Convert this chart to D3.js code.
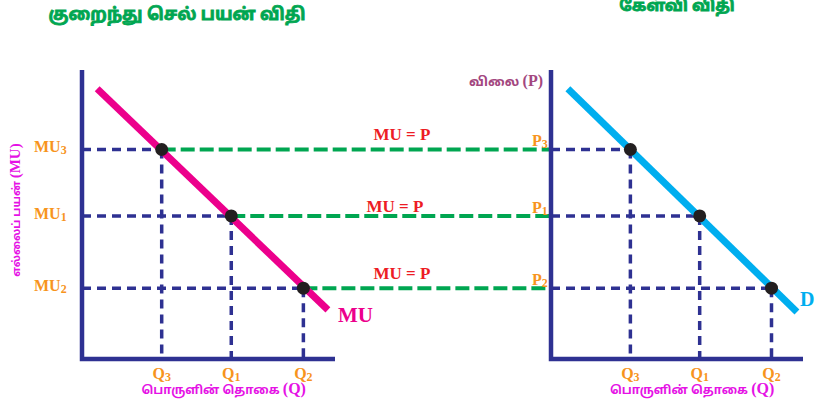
<!DOCTYPE html>
<html lang="ta">
<head>
<meta charset="utf-8" />
<script src="https://cdn.jsdelivr.net/npm/d3@7"></script>
<style>
  body { margin: 0; background: #fff; }
  svg { display: block; }
  .serif { font-family: "Liberation Serif", "DejaVu Serif", serif; font-weight: bold; }
  .tamil { font-family: "Noto Sans Tamil", "Lohit Tamil", "Noto Sans", sans-serif; font-weight: bold; }
</style>
</head>
<body>
<svg id="chart" width="817" height="399"></svg>
<script>
// values (axis units 0..10)
var qValues = [3.15, 5.9, 8.75];          // Q3, Q1, Q2
var qLabels = [["Q", "3"], ["Q", "1"], ["Q", "2"]];
var muValues = [7.25, 4.95, 2.45];        // MU3, MU1, MU2  (= P3, P1, P2)
var muLabels = [["MU", "3"], ["MU", "1"], ["MU", "2"]];
var pLabels = [["P", "3"], ["P", "1"], ["P", "2"]];
var muCurve = [[0.6, 9.35], [9.72, 1.7]];
var demandCurve = [[0.67, 9.35], [9.76, 1.63]];
var eqLabels = ["MU = P", "MU = P", "MU = P"];

var svg = d3.select("#chart");

var axisColor = "#2e3192",
    orange = "#f7941d",
    magenta = "#e512e5",
    green = "#00a651";

var y = d3.scaleLinear().domain([0, 10]).range([359, 70]);
var xL = d3.scaleLinear().domain([0, 10]).range([82, 335]);
var xR = d3.scaleLinear().domain([0, 10]).range([551, 803]);

// green MU = P connectors (behind everything)
svg.append("g").selectAll("line")
    .data(muValues)
  .enter().append("line")
    .attr("x1", function(d, i) { return xL(qValues[i]); })
    .attr("x2", xR(0))
    .attr("y1", function(d) { return y(d); })
    .attr("y2", function(d) { return y(d); })
    .attr("stroke", green)
    .attr("stroke-width", 4)
    .attr("stroke-dasharray", "14,5");

svg.append("g").selectAll("text")
    .data(eqLabels)
  .enter().append("text")
    .attr("class", "serif")
    .attr("x", function(d, i) { return i == 1 ? 395 : 402; })
    .attr("y", function(d, i) { return y(muValues[i]) - (i == 1 ? 4 : 9); })
    .attr("text-anchor", "middle")
    .attr("font-size", 17)
    .attr("fill", "#ed1c24")
    .text(function(d) { return d; });

function subLabel(g, parts, size) {
  g.append("tspan").text(parts[0]);
  g.append("tspan").attr("font-size", size).attr("dy", 2).text(parts[1]);
}

// tamil words followed by a serif "(X)"
function mixedLabel(g, word, sym, symSize) {
  g.append("tspan").text(word + " ");
  g.append("tspan").attr("class", "serif").attr("font-size", symSize).text("(" + sym + ")");
}

function panel(x, curve, curveColor, levelLabels, levelX) {
  var g = svg.append("g");

  // dashed guides
  g.selectAll("line.h")
      .data(muValues)
    .enter().append("line")
      .attr("x1", x(0))
      .attr("x2", function(d, i) { return x(qValues[i]); })
      .attr("y1", function(d) { return y(d); })
      .attr("y2", function(d) { return y(d); })
      .attr("stroke", axisColor)
      .attr("stroke-width", 3.5)
      .attr("stroke-dasharray", "9,6");

  g.selectAll("line.v")
      .data(qValues)
    .enter().append("line")
      .attr("x1", function(d) { return x(d); })
      .attr("x2", function(d) { return x(d); })
      .attr("y1", function(d, i) { return y(muValues[i]); })
      .attr("y2", y(0))
      .attr("stroke", axisColor)
      .attr("stroke-width", 3.5)
      .attr("stroke-dasharray", "9,6");

  // curve
  g.append("path")
      .datum(curve)
      .attr("d", d3.line().x(function(d) { return x(d[0]); }).y(function(d) { return y(d[1]); }))
      .attr("stroke", curveColor)
      .attr("stroke-width", 7)
      .attr("fill", "none");

  // axes
  g.append("path")
      .attr("d", "M" + x(0) + "," + y(10) + "V" + y(0) + "H" + x(10))
      .attr("stroke", axisColor)
      .attr("stroke-width", 4.5)
      .attr("fill", "none");

  // points
  g.selectAll("circle")
      .data(qValues)
    .enter().append("circle")
      .attr("cx", function(d) { return x(d); })
      .attr("cy", function(d, i) { return y(muValues[i]); })
      .attr("r", 6.5)
      .attr("fill", "#231f20");

  // Q labels
  g.selectAll("text.q")
      .data(qLabels)
    .enter().append("text")
      .attr("class", "serif")
      .attr("x", function(d, i) { return x(qValues[i]); })
      .attr("y", 379)
      .attr("text-anchor", "middle")
      .attr("font-size", 16)
      .attr("fill", orange)
      .each(function(d) { subLabel(d3.select(this), d, 12); });

  // level labels
  g.selectAll("text.l")
      .data(levelLabels)
    .enter().append("text")
      .attr("class", "serif")
      .attr("x", levelX)
      .attr("y", function(d, i) { return y(muValues[i]) + (levelX < 100 ? 3 : -3); })
      .attr("font-size", 16)
      .attr("fill", orange)
      .each(function(d) { subLabel(d3.select(this), d, 12); });

  // x title
  var t = g.append("text")
      .attr("class", "tamil")
      .attr("x", x(5.6))
      .attr("y", 394)
      .attr("text-anchor", "middle")
      .attr("font-size", 12)
      .attr("fill", magenta);
  mixedLabel(t, "பொருளின் தொகை", "Q", 16);
}

panel(xL, muCurve, "#ec008c", muLabels, 34);
panel(xR, demandCurve, "#00aeef", pLabels, 532);

// curve names
svg.append("text").attr("class", "serif")
    .attr("x", 338).attr("y", 322)
    .attr("font-size", 21).attr("fill", "#ec008c").text("MU");
svg.append("text").attr("class", "serif")
    .attr("x", 800).attr("y", 306)
    .attr("font-size", 20).attr("fill", "#00aeef").text("D");

// axis titles
var yt = svg.append("text")
    .attr("class", "tamil")
    .attr("transform", "translate(20,210) rotate(-90)")
    .attr("text-anchor", "middle")
    .attr("font-size", 11)
    .attr("fill", magenta);
mixedLabel(yt, "எல்லைப் பயன்", "MU", 15);

var pt = svg.append("text")
    .attr("class", "tamil")
    .attr("x", 543).attr("y", 86)
    .attr("text-anchor", "end")
    .attr("font-size", 13)
    .attr("fill", "#a3477f");
mixedLabel(pt, "விலை ", "P", 16);

// titles
svg.append("text")
    .attr("class", "tamil")
    .attr("x", 177).attr("y", 20)
    .attr("text-anchor", "middle")
    .attr("font-size", 17)
    .attr("fill", green)
    .attr("stroke", green)
    .attr("stroke-width", 0.8)
    .text("குறைந்து செல் பயன் விதி");

svg.append("text")
    .attr("class", "tamil")
    .attr("x", 677).attr("y", 11)
    .attr("text-anchor", "middle")
    .attr("font-size", 16)
    .attr("fill", green)
    .attr("stroke", green)
    .attr("stroke-width", 0.8)
    .text("கேள்வி விதி");
</script>
</body>
</html>
